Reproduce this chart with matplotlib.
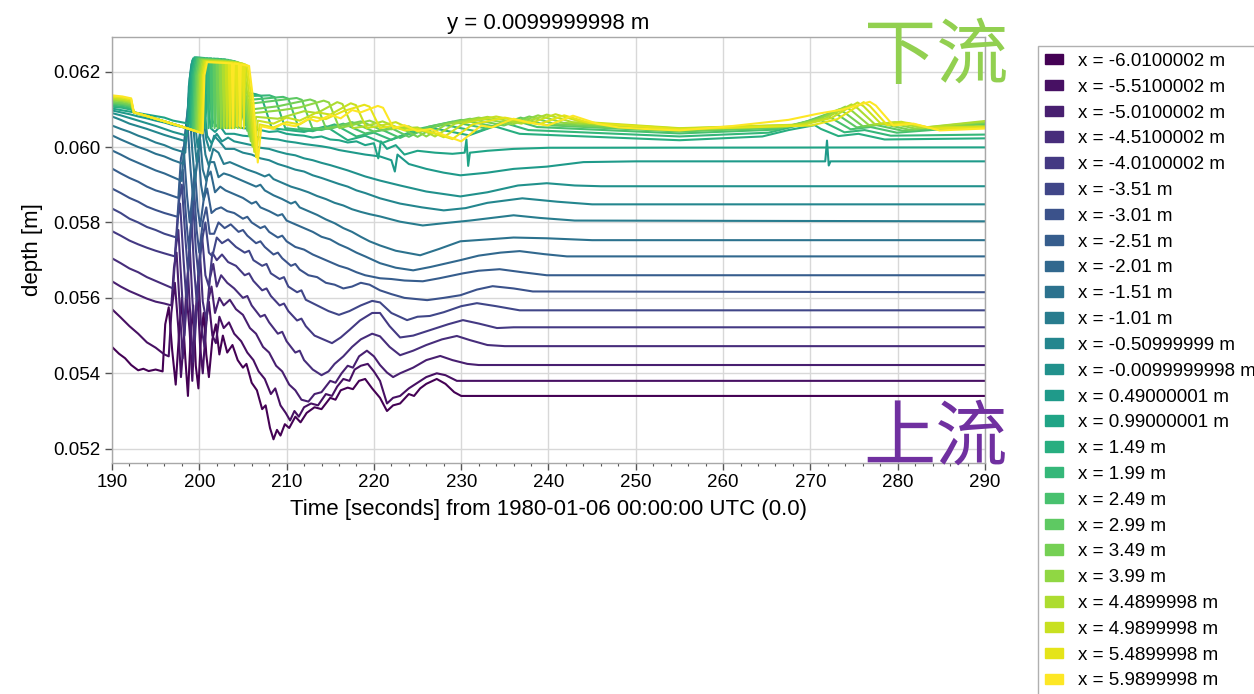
import matplotlib
matplotlib.use('Agg')
import matplotlib.pyplot as plt
import matplotlib.patches as mpatches
from matplotlib.ticker import MultipleLocator, FormatStrFormatter
import numpy as np

plt.rcParams['font.family'] = ['Liberation Sans', 'DejaVu Sans']

# gauge positions (legend labels), upstream -> downstream
x_labels = ['-6.0100002', '-5.5100002', '-5.0100002', '-4.5100002', '-4.0100002',
            '-3.51', '-3.01', '-2.51', '-2.01', '-1.51', '-1.01', '-0.50999999',
            '-0.0099999998', '0.49000001', '0.99000001', '1.49', '1.99', '2.49',
            '2.99', '3.49', '3.99', '4.4899998', '4.9899998', '5.4899998', '5.9899998']

# depth traces: (time [s], depth [mm])
L00 = [(190, 54.70), (190.8, 54.52), (191.5, 54.40), (192.2, 54.22), (193.0, 54.08), (193.6, 54.12), (194.2, 54.06),
       (195.0, 54.10), (195.8, 54.05), (196.1, 55.30), (196.5, 55.75), (196.9, 54.60), (197.3, 53.70), (197.7, 55.10),
       (198.0, 56.00), (198.4, 54.40), (198.7, 53.40), (199.0, 54.90), (199.3, 55.80), (199.6, 54.20), (199.9, 53.60),
       (200.2, 55.00), (200.5, 55.60), (200.8, 54.50), (201.1, 53.90), (201.5, 54.90), (201.9, 55.30), (202.3, 54.50),
       (202.7, 55.00), (203.2, 54.55), (203.8, 54.75), (204.4, 54.35), (205.0, 54.15), (205.4, 54.25), (206.0, 53.75),
       (206.6, 53.55), (207.2, 53.05), (207.6, 53.15), (208.1, 52.55), (208.5, 52.25), (208.9, 52.50), (209.3, 52.35),
       (209.8, 52.65), (210.3, 52.55), (211.0, 52.85), (211.6, 52.70), (212.3, 52.95), (213.2, 53.10), (214.0, 53.05),
       (215.0, 53.35), (215.6, 53.30), (216.2, 53.55), (217.0, 53.62), (217.6, 53.58), (218.3, 53.80), (219.0, 53.85),
       (219.8, 53.60), (220.7, 53.35), (221.5, 53.00), (222.2, 53.15), (223.0, 53.20), (224.0, 53.45), (224.6, 53.40),
       (225.3, 53.60), (226.0, 53.72), (227.2, 53.85), (228.2, 53.72), (229.2, 53.50), (230.0, 53.40), (290, 53.40)]
L01 = [(190, 55.70), (191, 55.48), (192, 55.25), (193, 55.05), (194, 54.82), (195, 54.68), (196, 54.50), (196.5, 54.45),
       (196.8, 55.60), (197.2, 56.40), (197.6, 55.20), (197.9, 53.90), (198.2, 54.80), (198.5, 56.20), (198.9, 55.10),
       (199.2, 53.80), (199.5, 55.30), (199.8, 56.10), (200.1, 54.70), (200.4, 54.00), (200.8, 55.40), (201.1, 55.90),
       (201.5, 55.00), (201.9, 54.80), (202.3, 55.50), (202.8, 55.20), (203.4, 55.35), (204.0, 55.05), (204.8, 54.85),
       (205.5, 54.55), (206.2, 54.35), (206.8, 54.05), (207.5, 53.85), (208.2, 53.45), (208.7, 53.60), (209.3, 53.15),
       (209.9, 52.95), (210.4, 52.75), (210.9, 53.00), (211.4, 52.85), (212.0, 53.10), (212.8, 53.20), (213.6, 53.15),
       (214.5, 53.45), (215.2, 53.40), (215.8, 53.65), (216.5, 53.85), (217.2, 53.80), (217.8, 54.10), (218.5, 54.20),
       (219.3, 54.25), (220.0, 54.05), (220.7, 53.80), (221.5, 53.20), (222.2, 53.35), (223.0, 53.40), (224.0, 53.60),
       (225.0, 53.75), (226.0, 53.90), (227.2, 54.00), (228.2, 53.95), (229.5, 53.80), (230.5, 53.80), (290, 53.80)]
L02 = [(190, 56.44), (191, 56.30), (192, 56.18), (193, 56.08), (194, 55.98), (195, 55.90), (196, 55.85), (196.8, 55.80),
       (197.1, 56.80), (197.4, 57.20), (197.8, 55.60), (198.1, 54.40), (198.4, 55.50), (198.7, 56.70), (199.0, 55.40),
       (199.3, 54.30), (199.6, 55.60), (199.9, 56.60), (200.2, 55.30), (200.6, 54.70), (201.0, 55.90), (201.4, 56.30),
       (201.8, 55.60), (202.3, 56.00), (202.8, 55.80), (203.5, 55.95), (204.2, 55.70), (205.0, 55.55), (205.8, 55.20),
       (206.5, 55.05), (207.3, 54.70), (208.0, 54.55), (208.8, 54.20), (209.5, 54.05), (210.3, 53.70), (211.0, 53.55),
       (211.7, 53.30), (212.5, 53.25), (213.2, 53.45), (214.0, 53.50), (215.0, 53.80), (215.6, 53.75), (216.3, 54.00),
       (217.0, 54.20), (217.6, 54.15), (218.3, 54.45), (219.2, 54.60), (220.0, 54.45), (220.7, 54.22), (221.5, 54.02),
       (222.2, 53.90), (223.0, 54.00), (224.5, 54.15), (226.0, 54.35), (227.6, 54.46), (229.0, 54.35), (230.7, 54.25),
       (232.0, 54.22), (290, 54.22)]
L03 = [(190, 57.05), (191, 56.92), (192, 56.78), (193, 56.68), (194, 56.55), (195, 56.45), (196, 56.35), (197.0, 56.25),
       (197.3, 57.30), (197.6, 57.80), (198.0, 56.20), (198.3, 55.00), (198.6, 56.10), (198.9, 57.40), (199.2, 56.00),
       (199.5, 54.90), (199.8, 56.20), (200.1, 57.10), (200.4, 55.90), (200.8, 55.40), (201.2, 56.50), (201.6, 56.90),
       (202.0, 56.30), (202.5, 56.60), (203.2, 56.40), (204.0, 56.25), (205.0, 56.00), (205.5, 56.05), (206.0, 55.80),
       (207.0, 55.50), (207.5, 55.55), (208.0, 55.35), (209.0, 55.05), (209.5, 55.10), (210.0, 54.85), (211.0, 54.55),
       (211.5, 54.60), (212.0, 54.35), (213.0, 54.10), (214.0, 53.95), (214.8, 54.05), (215.5, 54.25), (216.5, 54.45),
       (217.5, 54.70), (218.5, 54.90), (219.8, 55.05), (220.7, 54.98), (221.8, 54.70), (223.0, 54.48), (224.5, 54.60),
       (226.0, 54.75), (227.8, 54.90), (229.5, 54.99), (231.0, 54.88), (233.0, 54.75), (235.0, 54.72), (290, 54.72)]
L04 = [(190, 57.77), (191, 57.65), (192, 57.52), (193, 57.42), (194, 57.33), (195, 57.25), (196, 57.18), (197.2, 57.10),
       (197.5, 58.10), (197.8, 58.50), (198.2, 57.00), (198.5, 56.00), (198.8, 57.00), (199.1, 58.10), (199.4, 56.80),
       (199.7, 55.90), (200.0, 57.00), (200.3, 57.70), (200.7, 56.60), (201.1, 56.30), (201.5, 57.20), (202.0, 57.00),
       (202.6, 57.15), (203.3, 56.95), (204.2, 56.85), (205.2, 56.60), (205.7, 56.65), (206.2, 56.45), (207.2, 56.20),
       (207.7, 56.25), (208.2, 56.05), (209.2, 55.80), (209.7, 55.85), (210.2, 55.65), (211.2, 55.40), (211.7, 55.45),
       (212.2, 55.25), (213.2, 55.00), (214.2, 54.90), (215.2, 54.80), (216.2, 54.95), (217.2, 55.15), (218.4, 55.40),
       (219.8, 55.60), (220.7, 55.60), (221.8, 55.25), (223.0, 54.95), (224.5, 55.00), (226.5, 55.15), (228.5, 55.30),
       (230.2, 55.41), (232.0, 55.32), (234.1, 55.20), (236.0, 55.22), (290, 55.22)]
L05 = [(190, 58.37), (191, 58.25), (192, 58.10), (193, 58.00), (194, 57.88), (195, 57.80), (196, 57.70), (197.4, 57.60),
       (197.7, 58.60), (198.0, 59.00), (198.4, 57.60), (198.7, 56.70), (199.0, 57.60), (199.3, 58.50), (199.6, 57.30),
       (199.9, 56.60), (200.3, 57.50), (200.7, 58.00), (201.1, 57.20), (201.5, 57.10), (202.0, 57.60), (202.6, 57.45),
       (203.3, 57.55), (204.2, 57.35), (205.2, 57.20), (205.7, 57.25), (206.2, 57.00), (207.2, 56.85), (207.7, 56.90),
       (208.2, 56.65), (209.2, 56.50), (209.7, 56.55), (210.2, 56.30), (211.2, 56.15), (211.7, 56.20), (212.2, 55.95),
       (213.5, 55.80), (214.8, 55.65), (216.0, 55.55), (217.2, 55.65), (218.5, 55.80), (219.8, 55.92), (220.7, 55.88),
       (222.0, 55.60), (223.8, 55.41), (225.0, 55.50), (226.4, 55.52), (228.0, 55.62), (230.0, 55.78), (231.8, 55.86),
       (234.0, 55.78), (236.7, 55.67), (290, 55.67)]
L06 = [(190, 58.90), (191, 58.78), (192, 58.65), (193, 58.55), (194, 58.42), (195, 58.33), (196, 58.25), (197.5, 58.15),
       (197.8, 59.10), (198.1, 59.40), (198.5, 58.10), (198.8, 57.30), (199.1, 58.10), (199.4, 58.90), (199.7, 57.80),
       (200.0, 57.20), (200.4, 58.00), (200.8, 58.40), (201.2, 57.70), (201.7, 57.70), (202.2, 58.00), (202.9, 57.85),
       (203.6, 57.95), (204.5, 57.75), (205.0, 57.80), (205.5, 57.65), (206.5, 57.45), (207.0, 57.50), (207.5, 57.35),
       (208.5, 57.15), (209.0, 57.20), (209.5, 57.05), (210.5, 56.85), (211.0, 56.90), (211.5, 56.75), (212.5, 56.60),
       (213.5, 56.55), (214.5, 56.40), (215.5, 56.35), (216.5, 56.25), (217.5, 56.30), (218.5, 56.40), (219.5, 56.35),
       (220.7, 56.20), (222.0, 56.10), (223.5, 56.00), (226.1, 55.94), (228.0, 56.00), (229.9, 56.07), (231.8, 56.22),
       (233.6, 56.31), (236.0, 56.25), (238.2, 56.17), (290, 56.15)]
L07 = [(190, 59.43), (191, 59.30), (192, 59.18), (193, 59.08), (194, 58.95), (195, 58.85), (196, 58.78), (197.6, 58.65),
       (197.9, 59.70), (198.2, 60.00), (198.6, 58.70), (198.9, 58.00), (199.2, 58.70), (199.5, 59.40), (199.8, 58.40),
       (200.1, 57.90), (200.5, 58.60), (200.9, 58.90), (201.4, 58.25), (201.9, 58.35), (202.5, 58.40), (203.2, 58.30),
       (204.0, 58.25), (205.0, 58.10), (205.5, 58.15), (206.0, 58.00), (207.0, 57.85), (207.5, 57.90), (208.0, 57.75),
       (209.0, 57.60), (209.5, 57.65), (210.0, 57.50), (211.0, 57.35), (212.0, 57.28), (213.0, 57.15), (214.0, 57.05),
       (215.0, 56.95), (216.0, 56.85), (217.0, 56.78), (218.0, 56.68), (219.0, 56.60), (220.7, 56.52), (222.0, 56.50),
       (223.5, 56.46), (225.6, 56.44), (227.5, 56.52), (230.2, 56.65), (232.0, 56.72), (234.4, 56.76), (237.0, 56.68),
       (239.8, 56.60), (290, 56.60)]
L08 = [(190, 59.91), (191, 59.80), (192, 59.68), (193, 59.58), (194, 59.48), (195, 59.38), (196, 59.30), (197, 59.20),
       (198.0, 59.10), (198.3, 60.20), (198.6, 60.80), (199.0, 59.40), (199.3, 58.60), (199.6, 59.30), (199.9, 59.90),
       (200.2, 59.00), (200.5, 58.60), (200.9, 59.20), (201.3, 59.35), (201.8, 58.80), (202.4, 58.95), (203.0, 58.85),
       (204.0, 58.75), (205.0, 58.65), (206.0, 58.50), (206.5, 58.55), (207.0, 58.40), (208.0, 58.30), (209.0, 58.18),
       (209.5, 58.22), (210.0, 58.05), (211.0, 57.95), (212.0, 57.85), (213.0, 57.75), (214.0, 57.62), (215.0, 57.55),
       (216.0, 57.42), (217.0, 57.32), (218.0, 57.20), (219.0, 57.10), (220.7, 56.92), (222.5, 56.80), (224.5, 56.73),
       (226.5, 56.82), (229.9, 57.00), (232.0, 57.12), (234.5, 57.20), (236.7, 57.24), (239.5, 57.16), (242.1, 57.10),
       (290, 57.10)]
L09 = [(190, 60.31), (191, 60.20), (192, 60.10), (193, 60.00), (194, 59.92), (195, 59.82), (196, 59.75), (197, 59.65),
       (198.2, 59.55), (198.5, 60.60), (198.8, 61.30), (199.2, 59.90), (199.5, 59.10), (199.8, 59.70), (200.1, 60.20),
       (200.4, 59.40), (200.8, 59.10), (201.2, 59.60), (201.7, 59.60), (202.2, 59.20), (202.8, 59.30), (203.5, 59.25),
       (204.5, 59.15), (205.5, 59.05), (206.5, 58.95), (207.0, 59.00), (207.5, 58.85), (208.5, 58.72), (209.5, 58.62),
       (210.5, 58.50), (211.0, 58.55), (211.5, 58.40), (212.5, 58.30), (213.5, 58.20), (214.5, 58.08), (215.5, 57.98),
       (216.5, 57.85), (217.5, 57.75), (218.5, 57.62), (219.5, 57.50), (220.7, 57.39), (222.5, 57.25), (225.3, 57.13),
       (227.5, 57.30), (229.9, 57.50), (233.0, 57.55), (236.0, 57.60), (239.8, 57.58), (245.0, 57.53), (290, 57.53)]
L10 = [(190, 60.57), (191, 60.48), (192, 60.40), (193, 60.30), (194, 60.22), (195, 60.12), (196, 60.05), (197, 59.95),
       (198.4, 59.85), (198.7, 61.00), (199.0, 61.80), (199.4, 60.30), (199.7, 59.60), (200.0, 60.10), (200.3, 60.60),
       (200.7, 59.80), (201.1, 59.50), (201.6, 59.95), (202.2, 59.85), (202.8, 59.55), (203.5, 59.60), (204.5, 59.50),
       (205.5, 59.40), (206.5, 59.32), (207.5, 59.22), (208.0, 59.27), (208.5, 59.15), (209.5, 59.05), (210.5, 58.95),
       (211.5, 58.88), (212.5, 58.80), (213.5, 58.70), (214.5, 58.62), (215.5, 58.52), (216.5, 58.45), (217.5, 58.35),
       (218.5, 58.28), (219.5, 58.22), (220.7, 58.16), (223.0, 58.02), (225.6, 57.92), (228.0, 57.98), (231.0, 58.05),
       (233.5, 58.12), (236.0, 58.19), (239.0, 58.12), (243.0, 58.05), (290, 58.03)]
L11 = [(190, 60.81), (191, 60.72), (192, 60.62), (193, 60.55), (194, 60.48), (195, 60.40), (196, 60.32), (197, 60.25),
       (198.5, 60.15), (198.8, 61.40), (199.1, 62.10), (199.5, 60.70), (199.8, 60.00), (200.1, 60.40), (200.4, 60.90),
       (200.8, 60.20), (201.2, 59.90), (201.7, 60.30), (202.3, 60.15), (203.0, 59.95), (204.0, 59.95), (205.0, 59.85),
       (206.0, 59.80), (207.0, 59.70), (208.0, 59.65), (209.0, 59.55), (210.0, 59.48), (211.0, 59.40), (212.0, 59.35),
       (213.0, 59.25), (214.0, 59.18), (215.0, 59.10), (216.0, 59.02), (217.0, 58.95), (218.0, 58.85), (219.0, 58.78),
       (220.7, 58.64), (223.0, 58.50), (225.5, 58.40), (228.0, 58.32), (230.5, 58.38), (233.0, 58.52), (237.0, 58.64),
       (241.0, 58.55), (245.0, 58.48), (290, 58.48)]
L12 = [(190, 60.90), (191, 60.84), (192, 60.77), (193, 60.70), (194, 60.63), (195, 60.56), (196, 60.48), (197, 60.40),
       (198.6, 60.30), (198.8, 61.60), (199.1, 62.20), (199.5, 62.15), (199.8, 61.00), (200.1, 60.40), (200.5, 61.20),
       (200.9, 60.30), (201.4, 60.10), (202.0, 60.35), (202.6, 60.15), (203.3, 60.25), (204.0, 60.15), (205.0, 60.10),
       (206.0, 60.05), (207.0, 59.98), (208.0, 59.95), (209.0, 59.88), (210.0, 59.82), (211.0, 59.78), (212.0, 59.70),
       (213.0, 59.65), (214.0, 59.58), (215.0, 59.52), (216.0, 59.45), (217.0, 59.38), (218.0, 59.30), (219.0, 59.22),
       (220.7, 59.11), (223.0, 58.98), (226.0, 58.82), (229.9, 58.69), (233.0, 58.80), (236.5, 58.98), (239.8, 59.04),
       (243.0, 58.98), (246.0, 58.96), (290, 58.96)]
L13 = [(190, 60.97), (191, 60.92), (192, 60.87), (193, 60.81), (194, 60.76), (195, 60.70), (196, 60.65), (197, 60.58),
       (198.7, 60.50), (198.9, 61.80), (199.2, 62.30), (199.8, 62.25), (200.2, 61.20), (200.5, 60.70), (200.9, 61.40),
       (201.3, 60.50), (201.8, 60.40), (202.4, 60.55), (203.0, 60.35), (204.0, 60.35), (205.0, 60.30), (206.0, 60.28),
       (207.0, 60.25), (208.0, 60.22), (209.0, 60.20), (210.0, 60.15), (211.0, 60.12), (212.0, 60.08), (213.0, 60.05),
       (214.0, 60.02), (215.0, 59.98), (216.0, 59.92), (217.0, 59.88), (218.0, 59.84), (219.0, 59.80), (220.7, 59.75),
       (222.0, 59.65), (222.4, 59.35), (222.7, 59.80), (224.0, 59.55), (226.0, 59.42), (228.0, 59.32), (229.9, 59.25),
       (233.0, 59.32), (236.0, 59.42), (239.8, 59.48), (244.0, 59.60), (250.0, 59.62), (271.7, 59.62), (271.9, 60.17),
       (272.1, 59.51), (272.3, 59.62), (290, 59.62)]
L14 = [(190, 61.02), (191, 60.98), (192, 60.94), (193, 60.90), (194, 60.86), (195, 60.82), (196, 60.78), (197, 60.70),
       (198.8, 60.62), (199.0, 61.90), (199.3, 62.35), (200.0, 62.30), (200.4, 61.30), (200.7, 60.80), (201.1, 61.50),
       (201.5, 60.70), (202.0, 60.55), (202.6, 60.70), (203.2, 60.50), (204.0, 60.55), (205.0, 60.50), (206.0, 60.48),
       (207.0, 60.45), (208.0, 60.40), (209.0, 60.42), (210.0, 60.35), (211.0, 60.32), (212.0, 60.30), (213.0, 60.25),
       (214.0, 60.28), (215.0, 60.20), (216.0, 60.18), (217.0, 60.12), (218.0, 60.15), (219.0, 60.05), (220.0, 60.10),
       (220.5, 59.70), (220.8, 60.15), (221.5, 59.95), (222.5, 60.05), (223.5, 59.80), (225.0, 59.90), (227.0, 59.85),
       (229.0, 59.82), (230.4, 59.85), (230.6, 60.20), (230.8, 59.50), (231.0, 59.85), (233.0, 59.90), (236.0, 59.95),
       (240.0, 59.98), (290, 59.99)]
L15 = [(190, 61.07), (191.2, 61.04), (192.2, 60.99), (192.5, 60.92), (194, 60.82), (196, 60.68), (198, 60.54),
       (198.95, 60.47), (199.15, 61.90), (199.45, 62.38), (200.58, 62.36), (200.70, 60.50), (200.82, 62.35),
       (201.38, 62.35), (201.50, 60.55), (201.62, 62.34), (202.18, 62.34), (202.30, 60.50), (202.42, 62.33),
       (202.98, 62.32), (203.10, 60.55), (203.22, 62.30), (203.9, 62.28), (204.4, 61.20), (204.9, 60.85),
       (205.3, 61.45), (206.5, 61.40), (207.1, 61.35), (208.3, 60.50), (212.0, 60.40), (214.5, 60.55), (217.0, 60.18),
       (219.0, 60.30), (221.0, 60.11), (223.3, 60.31), (227.0, 60.49), (230.9, 60.31), (233.8, 60.55), (236.7, 60.35),
       (255, 60.18), (264.5, 60.28), (267.5, 60.45), (270.5, 60.58), (271.2, 60.48), (273.2, 60.29), (275.5, 60.35),
       (278.5, 60.20), (290, 60.23)]
L16 = [(190, 61.10), (191.2, 61.07), (192.2, 61.02), (192.5, 60.92), (194, 60.82), (196, 60.68), (198, 60.54),
       (199.11, 60.46), (199.31, 61.90), (199.61, 62.37), (200.93, 62.35), (201.05, 60.50), (201.17, 62.34),
       (201.73, 62.34), (201.85, 60.55), (201.97, 62.33), (202.53, 62.33), (202.65, 60.50), (202.77, 62.32),
       (203.33, 62.31), (203.45, 60.55), (203.57, 62.29), (204.1, 62.27), (204.6, 61.20), (205.1, 60.71),
       (205.5, 61.35), (208.05, 61.37), (208.65, 61.32), (209.85, 60.50), (213.0, 60.42), (215.5, 60.60),
       (218.0, 60.28), (220.0, 60.38), (222.0, 60.19), (224.3, 60.41), (228.0, 60.59), (231.9, 60.41), (234.8, 60.65),
       (237.7, 60.45), (255, 60.28), (265.2, 60.38), (268.2, 60.55), (271.2, 60.72), (271.9, 60.62), (273.9, 60.39),
       (276.2, 60.45), (279.2, 60.30), (290, 60.33)]
L17 = [(190, 61.14), (191.2, 61.11), (192.2, 61.06), (192.5, 60.92), (194, 60.82), (196, 60.68), (198, 60.54),
       (199.27, 60.45), (199.47, 61.90), (199.77, 62.35), (201.28, 62.33), (201.40, 60.50), (201.52, 62.32),
       (202.08, 62.32), (202.20, 60.55), (202.32, 62.31), (202.88, 62.31), (203.00, 60.50), (203.12, 62.30),
       (203.68, 62.28), (203.80, 60.55), (203.92, 62.27), (204.3, 62.25), (204.8, 61.20), (205.3, 60.57),
       (205.7, 61.25), (209.6, 61.33), (210.2, 61.28), (211.4, 60.50), (214.0, 60.45), (216.5, 60.62), (219.0, 60.36),
       (221.0, 60.45), (223.0, 60.24), (225.3, 60.49), (229.0, 60.67), (232.9, 60.49), (235.8, 60.73), (238.7, 60.53),
       (255, 60.36), (265.9, 60.46), (268.9, 60.63), (271.9, 60.84), (272.6, 60.74), (274.6, 60.47), (276.9, 60.53),
       (279.9, 60.38), (290, 60.56)]
L18 = [(190, 61.17), (191.2, 61.14), (192.2, 61.09), (192.5, 60.92), (194, 60.82), (196, 60.68), (198, 60.54),
       (199.43, 60.43), (199.63, 61.90), (199.93, 62.34), (201.63, 62.32), (201.75, 60.50), (201.87, 62.31),
       (202.43, 62.31), (202.55, 60.55), (202.67, 62.30), (203.23, 62.30), (203.35, 60.50), (203.47, 62.29),
       (204.03, 62.27), (204.15, 60.55), (204.27, 62.26), (204.5, 62.24), (205.0, 61.20), (205.5, 60.43),
       (205.9, 61.15), (211.15, 61.30), (211.75, 61.25), (212.95, 60.50), (215.0, 60.48), (217.5, 60.66),
       (220.0, 60.41), (222.0, 60.50), (224.0, 60.27), (226.3, 60.54), (230.0, 60.72), (233.9, 60.54), (236.8, 60.78),
       (239.7, 60.58), (255, 60.41), (266.6, 60.51), (269.6, 60.68), (272.6, 60.93), (273.3, 60.83), (275.3, 60.52),
       (277.6, 60.58), (280.6, 60.43), (290, 60.61)]
L19 = [(190, 61.20), (191.2, 61.17), (192.2, 61.12), (192.5, 60.92), (194, 60.82), (196, 60.68), (198, 60.54),
       (199.59, 60.42), (199.79, 61.90), (200.09, 62.32), (201.98, 62.30), (202.10, 60.50), (202.22, 62.29),
       (202.78, 62.29), (202.90, 60.55), (203.02, 62.28), (203.58, 62.27), (203.70, 60.50), (203.82, 62.26),
       (204.7, 62.22), (205.2, 61.20), (205.7, 60.29), (206.1, 61.00), (209.0, 61.08), (212.7, 61.26),
       (213.3, 61.21), (214.5, 60.50), (216.0, 60.55), (218.5, 60.68), (221.0, 60.44), (223.0, 60.52), (225.0, 60.27),
       (227.3, 60.57), (231.0, 60.75), (234.9, 60.57), (237.8, 60.81), (240.7, 60.61), (255, 60.44), (267.3, 60.54),
       (270.3, 60.71), (273.3, 61.00), (274.0, 60.90), (276.0, 60.55), (278.3, 60.61), (281.3, 60.46), (290, 60.64)]
L20 = [(190, 61.24), (191.2, 61.21), (192.2, 61.16), (192.5, 60.92), (194, 60.82), (196, 60.68), (198, 60.54),
       (199.75, 60.41), (199.95, 61.90), (200.25, 62.31), (202.33, 62.29), (202.45, 60.50), (202.57, 62.28),
       (203.13, 62.28), (203.25, 60.55), (203.37, 62.27), (203.93, 62.26), (204.05, 60.50), (204.17, 62.25),
       (204.9, 62.21), (205.4, 61.20), (205.9, 60.15), (206.3, 60.90), (209.5, 60.98), (211.5, 61.05),
       (214.25, 61.23), (214.85, 61.18), (216.05, 60.50), (217.5, 60.58), (219.5, 60.70), (222.0, 60.47),
       (224.0, 60.55), (226.0, 60.28), (228.3, 60.60), (232.0, 60.78), (235.9, 60.60), (238.8, 60.84), (241.7, 60.64),
       (255, 60.47), (268.0, 60.57), (271.0, 60.74), (274.0, 61.07), (274.7, 60.97), (276.7, 60.58), (279.0, 60.64),
       (282.0, 60.49), (290, 60.67)]
L21 = [(190, 61.27), (191.2, 61.24), (192.2, 61.19), (192.5, 60.92), (194, 60.82), (196, 60.68), (198, 60.54),
       (199.91, 60.40), (200.11, 61.90), (200.41, 62.29), (202.68, 62.27), (202.80, 60.50), (202.92, 62.26),
       (203.48, 62.26), (203.60, 60.55), (203.72, 62.25), (204.28, 62.24), (204.40, 60.50), (204.52, 62.23),
       (205.1, 62.19), (205.6, 61.20), (206.1, 60.01), (206.5, 60.80), (209.0, 60.75), (212.0, 60.95),
       (213.5, 60.90), (215.8, 61.19), (216.4, 61.14), (217.6, 60.50), (219.0, 60.55), (221.0, 60.68), (223.0, 60.49),
       (225.0, 60.52), (227.0, 60.28), (229.3, 60.62), (233.0, 60.80), (236.9, 60.62), (239.8, 60.86), (242.7, 60.66),
       (255, 60.49), (268.7, 60.59), (271.7, 60.76), (274.7, 61.13), (275.4, 61.03), (277.4, 60.60), (279.7, 60.66),
       (282.7, 60.51), (290, 60.69)]
L22 = [(190, 61.30), (191.2, 61.27), (192.2, 61.22), (192.5, 60.92), (194, 60.82), (196, 60.68), (198, 60.54),
       (200.07, 60.39), (200.27, 61.90), (200.57, 62.28), (203.03, 62.26), (203.15, 60.50), (203.27, 62.25),
       (203.83, 62.25), (203.95, 60.55), (204.07, 62.24), (204.63, 62.23), (204.75, 60.50), (204.87, 62.22),
       (205.3, 62.18), (205.8, 61.20), (206.3, 59.87), (206.7, 60.70), (208.5, 60.62), (210.0, 60.78),
       (211.5, 60.70), (213.5, 60.92), (215.0, 60.86), (217.35, 61.16), (217.95, 61.11), (219.15, 60.50),
       (221.0, 60.58), (222.5, 60.66), (224.0, 60.50), (226.0, 60.45), (228.0, 60.26), (230.3, 60.63), (234.0, 60.81),
       (237.9, 60.63), (240.8, 60.87), (243.7, 60.67), (255, 60.50), (269.4, 60.60), (272.4, 60.77), (275.4, 61.18),
       (276.1, 61.08), (278.1, 60.61), (280.4, 60.67), (283.4, 60.52), (290, 60.55)]
L23 = [(190, 61.34), (191.2, 61.31), (192.2, 61.26), (192.5, 60.92), (194, 60.82), (196, 60.68), (198, 60.54),
       (200.23, 60.38), (200.43, 61.90), (200.73, 62.26), (203.38, 62.24), (203.50, 60.50), (203.62, 62.23),
       (204.18, 62.23), (204.30, 60.55), (204.42, 62.22), (204.98, 62.20), (205.10, 60.50), (205.22, 62.19),
       (205.5, 62.16), (206.0, 61.20), (206.5, 59.73), (206.9, 60.60), (208.5, 60.52), (210.0, 60.66),
       (211.5, 60.60), (213.0, 60.80), (214.5, 60.74), (216.5, 60.95), (218.9, 61.12), (219.5, 61.07),
       (220.7, 60.50), (222.0, 60.56), (223.5, 60.44), (225.0, 60.47), (227.0, 60.36), (229.0, 60.21), (231.3, 60.60),
       (235.0, 60.78), (238.9, 60.60), (241.8, 60.84), (244.7, 60.64), (255, 60.47), (270.1, 60.57), (273.1, 60.74),
       (276.1, 61.19), (276.8, 61.09), (278.8, 60.58), (281.1, 60.64), (284.1, 60.49), (290, 60.52)]
L24 = [(190, 61.37), (191.2, 61.34), (192.2, 61.29), (192.5, 60.92), (194, 60.82), (196, 60.68), (198, 60.54),
       (200.39, 60.36), (200.59, 61.90), (200.89, 62.25), (203.73, 62.22), (203.85, 60.50), (203.97, 62.21),
       (204.53, 62.20), (204.65, 60.55), (204.77, 62.19), (205.2, 62.17), (205.7, 62.15), (206.2, 61.20),
       (206.7, 59.59), (207.1, 60.55), (208.5, 60.48), (209.5, 60.62), (211.0, 60.55), (212.5, 60.75), (213.5, 60.68),
       (215.0, 60.85), (216.2, 60.76), (217.5, 60.98), (218.5, 60.92), (220.45, 61.09), (221.05, 61.04),
       (222.25, 60.50), (223.5, 60.58), (225.0, 60.42), (226.5, 60.48), (228.0, 60.32), (230.0, 60.15), (232.3, 60.57),
       (233.5, 60.52), (236.0, 60.75), (237.5, 60.66), (239.9, 60.57), (242.8, 60.83), (245.7, 60.61), (248.0, 60.52),
       (251.0, 60.48), (255, 60.44), (260.8, 60.55), (267.5, 60.72), (270.8, 60.88), (273.8, 61.00), (276.8, 61.20),
       (277.5, 61.10), (279.5, 60.57), (281.8, 60.62), (284.8, 60.44), (290, 60.49)]

traces = [L00, L01, L02, L03, L04, L05, L06, L07, L08, L09, L10, L11, L12,
          L13, L14, L15, L16, L17, L18, L19, L20, L21, L22, L23, L24]

fig = plt.figure(figsize=(12.54, 6.94), dpi=100)
ax = fig.add_axes([0.0893, 0.3333, 0.6962, 0.613])

colors = plt.cm.viridis(np.linspace(0, 1, len(traces)))
handles = []
for tr, c, lab in zip(traces, colors, x_labels):
    t, d = zip(*tr)
    ax.plot(t, np.array(d) / 1000.0, color=c, lw=1.5, solid_joinstyle='round')
    handles.append(mpatches.Patch(color=c, label='x = %s m' % lab))

ax.set_xlim(190, 290)
ax.set_ylim(0.05163, 0.06291)
ax.xaxis.set_major_locator(MultipleLocator(10))
ax.xaxis.set_minor_locator(MultipleLocator(2))
ax.yaxis.set_major_locator(MultipleLocator(0.002))
ax.yaxis.set_major_formatter(FormatStrFormatter('%.3f'))
ax.grid(True, which='major', color='#d8d8d8', lw=1.0)
ax.set_axisbelow(True)
for sp in ax.spines.values():
    sp.set_color('#a8a8a8')
    sp.set_linewidth(1.0)
ax.tick_params(which='major', length=5, width=1, color='#555555', labelsize=13.5, pad=3)
ax.tick_params(which='minor', length=2.5, width=0.8, color='#555555')
ax.tick_params(axis='y', which='minor', left=False)

ax.set_title('y = 0.0099999998 m', fontsize=16, pad=6)
ax.set_xlabel('Time [seconds] from 1980-01-06 00:00:00 UTC (0.0)', fontsize=16, labelpad=6)
ax.set_ylabel('depth [m]', fontsize=16, labelpad=8)

leg = fig.legend(handles=handles, loc='upper left', bbox_to_anchor=(1038 / 1254, 1 - 46 / 694),
                 bbox_transform=fig.transFigure, borderaxespad=0, fontsize=13.5,
                 handlelength=0.96, handleheight=0.48, handletextpad=0.8, labelspacing=0.47,
                 fancybox=False, framealpha=1, edgecolor='#b0b0b0', borderpad=0.37)
leg.get_frame().set_linewidth(1.0)

fig.text(936 / 1254, 1 - 57 / 694, '下流', color='#92d050', fontsize=52,
         family=['Noto Sans CJK SC', 'DejaVu Sans'], ha='center', va='center')
fig.text(936 / 1254, 1 - 439 / 694, '上流', color='#7030a0', fontsize=52,
         family=['Noto Sans CJK SC', 'DejaVu Sans'], ha='center', va='center')

fig.savefig('out.png', dpi=100)
